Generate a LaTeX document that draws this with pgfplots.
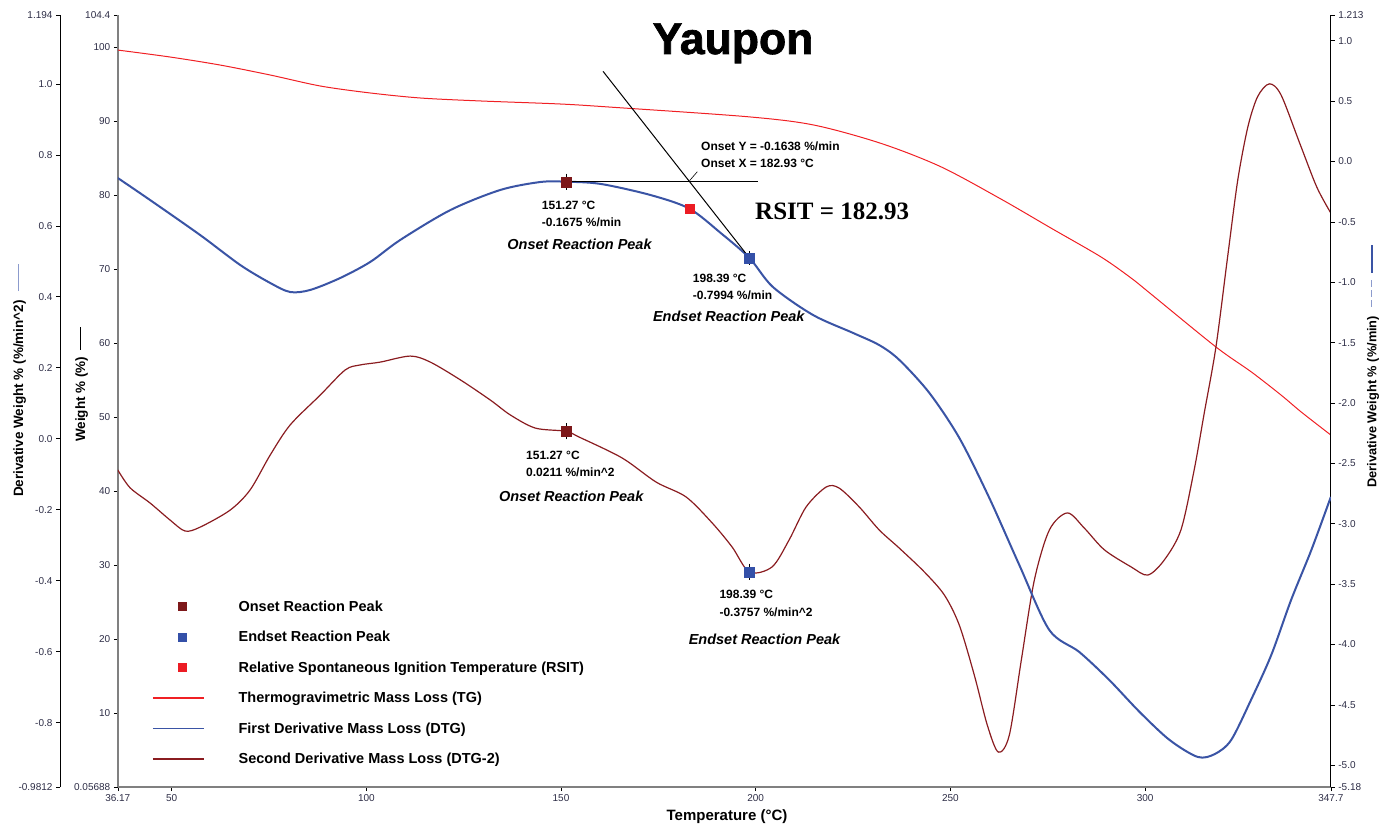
\documentclass[border=0pt]{standalone}
\usepackage{pgfplots}
\pgfplotsset{compat=1.18}
\usepackage{fontspec}
\setmainfont{Liberation Sans}
\newfontfamily\timesfont{Liberation Serif}
\newfontfamily\heavyfont[FakeBold=1.6]{Liberation Sans Bold}
\definecolor{tgred}{RGB}{240,32,36}
\definecolor{dtgblue}{RGB}{58,84,165}
\definecolor{dtgtwo}{RGB}{138,28,32}
\definecolor{onsetc}{RGB}{125,24,26}
\definecolor{endc}{RGB}{52,80,168}
\definecolor{rsitc}{RGB}{236,28,36}
\definecolor{tickc}{RGB}{45,45,70}
\definecolor{lbgray}{RGB}{140,155,205}
\definecolor{axgray}{RGB}{128,128,128}
\newcommand{\fs}[1]{\fontsize{#1}{#1}\selectfont}
\newcommand{\lgs}{\rule[-3pt]{0pt}{14pt}}
\pgfplotsset{
  sqleg/.style={legend image code/.code={\pgfpathrectangle{\pgfpoint{0pt}{-1pt}}{\pgfpoint{51pt}{2pt}}\pgfusepath{discard}\draw[##1] plot coordinates {(29pt,0pt)};}},
  lnleg/.style={legend image code/.code={\draw[##1] (0pt,0pt) -- (51pt,0pt);}}
}

\begin{document}
\begin{tikzpicture}[x=1pt,y=1pt]
\path[use as bounding box] (0,0) rectangle (1394,828);
\pgfplotsset{base/.style={scale only axis, width=1213pt, height=772pt,
  at={(117.8pt,41pt)}, anchor=south west, xmin=36.17, xmax=347.7,
  tick label style={font=\fs{10}, text=tickc},
  tick align=outside, major tick length=4pt, tick style={black, line width=0.6pt}}}

% ---------- TG (Weight %) ----------
\begin{axis}[base, ymin=0.05688, ymax=104.4,
  axis x line*=bottom, axis y line*=left,
  axis line style={draw=axgray, line width=1.6pt},
  xtick={36.17,50,100,150,200,250,300,347.7},
  xticklabels={36.17,50,100,150,200,250,300,347.7},
  ytick={0.05688,10,20,30,40,50,60,70,80,90,100,104.4},
  yticklabels={0.05688,10,20,30,40,50,60,70,80,90,100,104.4}]
\addplot[tgred, line width=1pt, smooth] coordinates {
(36.17,99.66) (49.6,98.72) (62.4,97.64) (75.3,96.29) (88.2,94.8) (101.0,93.86)
(113.9,93.18) (129.3,92.78) (149.8,92.37) (163.5,91.92) (197.9,90.65) (214.9,89.53)
(232.1,87.06) (247.5,83.9) (262.96,79.53) (275.8,75.61) (288.7,71.69) (296.4,68.85)
(301.5,66.69) (318.2,59.53) (327.3,56.15) (334.9,53.04) (340.1,50.74) (347.7,47.63)};
\end{axis}

% ---------- DTG-2 ----------
\begin{axis}[base, hide axis, ymin=-0.9812, ymax=1.194]
\addplot[dtgtwo, line width=1.2pt, smooth] coordinates {
(36.17,-0.088) (39.31,-0.138) (44.45,-0.181) (49.59,-0.229) (53.45,-0.260) (57.31,-0.249)
(65.02,-0.201) (70.16,-0.144) (75.30,-0.046) (80.44,0.039) (88.15,0.123) (94.58,0.194)
(98.44,0.208) (103.58,0.216) (111.29,0.233) (116.43,0.216) (124.14,0.166) (131.85,0.109)
(136.99,0.067) (143.42,0.030) (151.27,0.0211) (154.61,0.005) (165.67,-0.054) (174.41,-0.122)
(182.12,-0.164) (188.80,-0.237) (193.94,-0.305) (198.39,-0.3757) (204.21,-0.361) (208.58,-0.285)
(212.95,-0.192) (218.09,-0.136) (221.43,-0.139) (226.58,-0.192) (231.72,-0.257) (236.86,-0.308)
(243.28,-0.375) (248.43,-0.440) (252.28,-0.525) (256.14,-0.666) (259.48,-0.807) (262.31,-0.883)
(265.13,-0.835) (268.22,-0.623) (271.56,-0.398) (275.42,-0.257) (280.04,-0.209) (284.41,-0.252)
(289.55,-0.313) (296.4,-0.361) (300.7,-0.384) (304.9,-0.342) (309.2,-0.257) (312.6,-0.088)
(315.2,0.073) (318.2,0.259) (321.2,0.513) (323.8,0.729) (326.4,0.879) (328.9,0.964)
(331.9,1.000) (334.9,0.969) (339.7,0.833) (344.1,0.709) (347.7,0.636)};
\addplot[only marks, mark=square*, mark size=5pt, onsetc] coordinates {(151.27,0.0211)};
\addplot[only marks, mark=square*, mark size=5pt, endc] coordinates {(198.39,-0.3757)};
\addplot[black, line width=0.7pt] coordinates {(151.27,-0.002) (151.27,0.044)};
\addplot[black, line width=0.7pt] coordinates {(198.39,-0.352) (198.39,-0.399)};
\end{axis}

% ---------- DTG (right axis) ----------
\begin{axis}[base, ymin=-5.18, ymax=1.213, axis x line=none, axis y line*=right,
  axis line style={black, line width=1pt},
  ytick={-5.18,-5,-4.5,-4,-3.5,-3,-2.5,-2,-1.5,-1,-0.5,0,0.5,1,1.213},
  yticklabels={-5.18,-5.0,-4.5,-4.0,-3.5,-3.0,-2.5,-2.0,-1.5,-1.0,-0.5,0.0,0.5,1.0,1.213},
  legend cell align=left,
  legend style={at={(axis description cs:0.0282,0.2422)}, anchor=north west,
    draw=none, fill=none, inner sep=0pt, row sep=18pt, font=\bfseries\fs{14.5},
    nodes={inner sep=0pt}, /tikz/every odd column/.append style={column sep=34pt}}]
\addlegendimage{only marks, mark=square*, mark size=4pt, color=onsetc, sqleg}
\addlegendentry{\lgs Onset Reaction Peak}
\addlegendimage{only marks, mark=square*, mark size=4pt, color=endc, sqleg}
\addlegendentry{\lgs Endset Reaction Peak}
\addlegendimage{only marks, mark=square*, mark size=4pt, color=rsitc, sqleg}
\addlegendentry{\lgs Relative Spontaneous Ignition Temperature (RSIT)}
\addlegendimage{color=tgred, line width=1.3pt, lnleg}
\addlegendentry{\lgs Thermogravimetric Mass Loss (TG)}
\addlegendimage{color=dtgblue, line width=1.4pt, lnleg}
\addlegendentry{\lgs First Derivative Mass Loss (DTG)}
\addlegendimage{color=dtgtwo, line width=1.3pt, lnleg}
\addlegendentry{\lgs Second Derivative Mass Loss (DTG-2)}

\addplot[forget plot, dtgblue, line width=2pt, smooth] coordinates {
(36.17,-0.137) (44.45,-0.319) (57.31,-0.609) (67.6,-0.857) (75.3,-1.006) (80.44,-1.081)
(85.58,-1.064) (93.29,-0.965) (101.0,-0.832) (108.7,-0.650) (121.6,-0.402) (134.4,-0.236)
(144.7,-0.170) (151.27,-0.1675) (160.2,-0.186) (173.0,-0.278) (182.93,-0.39) (191.0,-0.592)
(198.39,-0.7994) (204.4,-1.039) (214.7,-1.271) (225.0,-1.420) (231.7,-1.520) (236.9,-1.644)
(244.6,-1.917) (252.3,-2.290) (260.0,-2.787) (267.7,-3.342) (275.4,-3.88) (283.1,-4.062)
(290.8,-4.294) (298.6,-4.559) (306.3,-4.791) (313.5,-4.931) (317.9,-4.907) (322.1,-4.791)
(327.2,-4.459) (332.4,-4.087) (337.5,-3.631) (342.7,-3.217) (347.7,-2.778)};
\addplot[forget plot, black, line width=1pt] coordinates {(151.27,-0.1638) (200.5,-0.1638)};
\addplot[forget plot, black, line width=1pt] coordinates {(160.8,0.746) (198.39,-0.7994)};
\addplot[forget plot, black, line width=0.6pt] coordinates {(183.0,-0.159) (185.0,-0.085)};
\addplot[forget plot, only marks, mark=square*, mark size=5pt, onsetc] coordinates {(151.27,-0.1675)};
\addplot[forget plot, only marks, mark=square*, mark size=4.5pt, rsitc] coordinates {(182.93,-0.39)};
\addplot[forget plot, only marks, mark=square*, mark size=5pt, endc] coordinates {(198.39,-0.7994)};
\addplot[forget plot, black, line width=0.7pt] coordinates {(151.27,-0.10) (151.27,-0.235)};
\addplot[forget plot, black, line width=0.7pt] coordinates {(198.39,-0.74) (198.39,-0.86)};
\end{axis}

% ---------- outer left axis (DTG-2 scale) ----------
\begin{axis}[scale only axis, width=1pt, height=772pt, at={(60pt,41pt)}, anchor=south west,
  xmin=0, xmax=1, ymin=-0.9812, ymax=1.194, axis x line=none, axis y line*=left,
  axis line style={black, line width=1pt}, tick align=outside, major tick length=4pt,
  tick style={black, line width=0.6pt}, tick label style={font=\fs{10}, text=tickc},
  ytick={-0.9812,-0.8,-0.6,-0.4,-0.2,0,0.2,0.4,0.6,0.8,1,1.194},
  yticklabels={-0.9812,-0.8,-0.6,-0.4,-0.2,0.0,0.2,0.4,0.6,0.8,1.0,1.194}]
\addplot[draw=none, forget plot] coordinates {(0.5,0)};
\end{axis}

% ---------- titles and labels ----------
\node[anchor=base, inner sep=0pt, font=\heavyfont\fs{44.5}] at (733,774) {Yaupon};
\node[anchor=base, inner sep=0pt, font=\bfseries\fs{15}] at (727,8) {Temperature (°C)};
\node[anchor=base west, inner sep=0pt, rotate=90, font=\bfseries\fs{13.5}] at (23,331)
  {Derivative Weight \% (\%/min\textasciicircum 2)\hspace{9pt}\textcolor{lbgray}{\rule[4pt]{27pt}{1pt}}};
\node[anchor=base west, inner sep=0pt, rotate=90, font=\bfseries\fs{13.5}] at (85,386)
  {Weight \% (\%)\hspace{7pt}\rule[4pt]{23pt}{0.8pt}};
\node[anchor=base west, inner sep=0pt, rotate=90, font=\bfseries\fs{12.8}] at (1376.3,340)
  {Derivative Weight \% (\%/min)\hspace{9pt}\textcolor{lbgray}{\rule[4pt]{7pt}{1pt}\hspace{3pt}\rule[4pt]{7pt}{1pt}\hspace{3pt}\rule[4pt]{7pt}{1pt}}\hspace{7pt}\textcolor{dtgblue}{\rule[3.6pt]{28pt}{1.6pt}}};

% ---------- annotations ----------
\tikzset{ann/.style={inner sep=0pt, anchor=base west, font=\bfseries\fs{12}},
         pk/.style={inner sep=0pt, anchor=base, font=\bfseries\itshape\fs{14.5}}}
\node[ann] at (701,677) {Onset Y = -0.1638 \%/min};
\node[ann] at (701,660.4) {Onset X = 182.93 °C};
\node[ann] at (541.7,618) {151.27 °C};
\node[ann] at (541.7,601.4) {-0.1675 \%/min};
\node[pk] at (579.5,578.5) {Onset Reaction Peak};
\node[inner sep=0pt, anchor=base west, font=\timesfont\bfseries\fs{25}] at (755,608) {RSIT = 182.93};
\node[ann] at (692.7,545.4) {198.39 °C};
\node[ann] at (692.7,528.7) {-0.7994 \%/min};
\node[pk] at (728.8,506.8) {Endset Reaction Peak};
\node[ann] at (526,368.7) {151.27 °C};
\node[ann] at (526,351) {0.0211 \%/min\textasciicircum 2};
\node[pk] at (571.2,326.8) {Onset Reaction Peak};
\node[ann] at (719.3,229.4) {198.39 °C};
\node[ann] at (719.3,212) {-0.3757 \%/min\textasciicircum 2};
\node[pk] at (764.5,183.5) {Endset Reaction Peak};
\end{tikzpicture}
\end{document}
